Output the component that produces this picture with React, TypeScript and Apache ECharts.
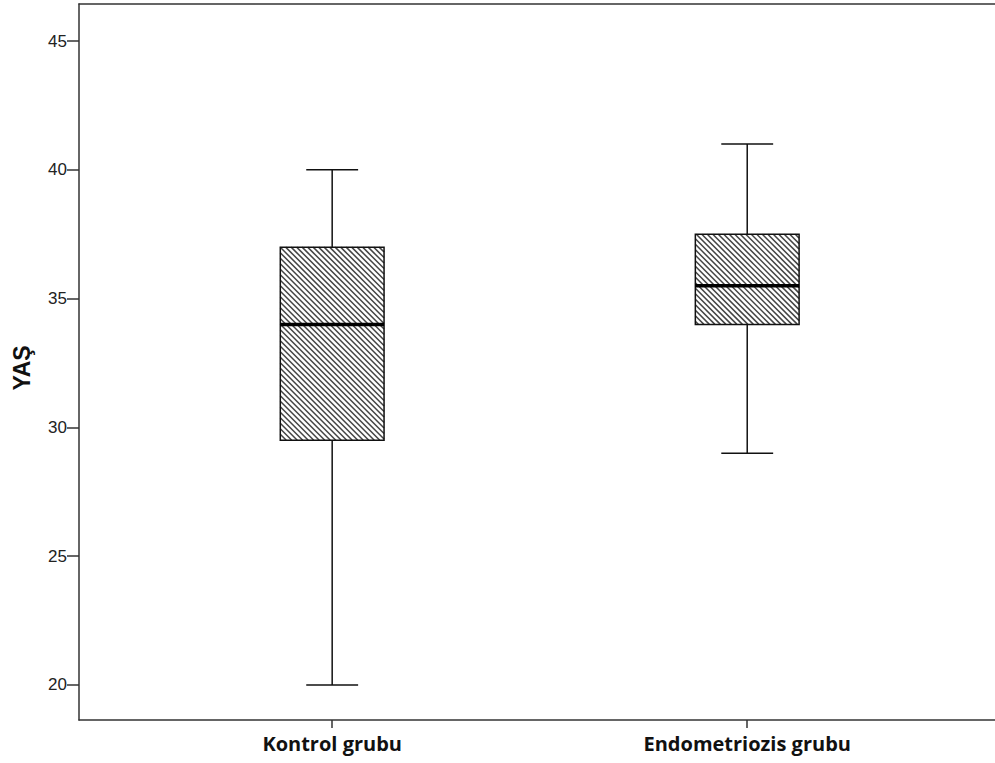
import React, { useEffect, useRef } from "react";
import * as echarts from "echarts";

const categories = ["Kontrol grubu", "Endometriozis grubu"];
const categoryPositions = [1, 2];
// [min, Q1, median, Q3, max]
const boxValues = [
  [20, 29.5, 34, 37, 40],
  [29, 34, 35.5, 37.5, 41],
];
const yTickValues = [20, 25, 30, 35, 40, 45];
const yAxisTitle = "YAŞ";

export default function App() {
  const ref = useRef<HTMLDivElement>(null);
  useEffect(() => {
    document.body.style.margin = "0";
    const chart = echarts.init(ref.current!, null, { renderer: "svg" });
    const data = boxValues.map((b, i) => [categoryPositions[i], ...b]);
    const axisLineStyle = { color: "#333", width: 1.5 };
    const option: any = {
      animation: false,
      backgroundColor: "#fff",
      grid: {
        left: 79,
        top: 4,
        bottom: 43,
        right: 0,
        show: false,
      },
      xAxis: [
        {
          type: "value",
          min: 0.39,
          max: 2.597,
          splitLine: { show: false },
          axisLine: { show: true, lineStyle: axisLineStyle },
          axisTick: {
            show: true,
            length: 8,
            customValues: categoryPositions,
            lineStyle: axisLineStyle,
          },
          axisLabel: {
            customValues: categoryPositions,
            formatter: (v: number) => categories[categoryPositions.indexOf(v)] ?? "",
            fontFamily: "Open Sans",
            fontWeight: "bold",
            fontSize: 20,
            color: "#111",
            margin: 13,
          },
        },
        {
          type: "value",
          position: "top",
          min: 0.39,
          max: 2.597,
          splitLine: { show: false },
          axisLine: { show: true, lineStyle: axisLineStyle },
          axisTick: { show: false },
          axisLabel: { show: false },
        },
      ],
      yAxis: {
        type: "value",
        min: 18.64,
        max: 46.44,
        splitLine: { show: false },
        axisLine: { show: true, lineStyle: axisLineStyle },
        axisTick: {
          show: true,
          length: 12,
          customValues: yTickValues,
          lineStyle: axisLineStyle,
        },
        axisLabel: {
          customValues: yTickValues,
          fontFamily: "Liberation Sans",
          fontSize: 17,
          color: "#222",
          margin: 12,
        },
        name: yAxisTitle,
        nameLocation: "middle",
        nameRotate: 90,
        nameGap: 46,
        nameTextStyle: {
          fontFamily: "Liberation Sans",
          fontWeight: "bold",
          fontSize: 23,
          color: "#111",
          padding: [0, 12, 0, 0],
        },
      },
      series: [
        {
          type: "custom",
          data,
          clip: false,
          renderItem: (params: any, api: any) => {
            const x = api.value(0);
            const mn = api.value(1);
            const q1 = api.value(2);
            const md = api.value(3);
            const q3 = api.value(4);
            const mx = api.value(5);
            const halfW = 0.125;
            const capHalf = 0.0625;
            const [xl, yq3] = api.coord([x - halfW, q3]);
            const [xr, yq1] = api.coord([x + halfW, q1]);
            const [xc, yMin] = api.coord([x, mn]);
            const yMax = api.coord([x, mx])[1];
            const yMed = api.coord([x, md])[1];
            const capL = api.coord([x - capHalf, mn])[0];
            const capR = api.coord([x + capHalf, mn])[0];
            const lineStyle = { stroke: "#111", lineWidth: 1.5 };
            const children: any[] = [];
            children.push({ type: "line", shape: { x1: xc, y1: yMax, x2: xc, y2: yq3 }, style: lineStyle });
            children.push({ type: "line", shape: { x1: xc, y1: yq1, x2: xc, y2: yMin }, style: lineStyle });
            children.push({ type: "line", shape: { x1: capL, y1: yMax, x2: capR, y2: yMax }, style: lineStyle });
            children.push({ type: "line", shape: { x1: capL, y1: yMin, x2: capR, y2: yMin }, style: lineStyle });
            children.push({
              type: "rect",
              shape: { x: xl, y: yq3, width: xr - xl, height: yq1 - yq3 },
              style: { fill: "#fff", stroke: "none" },
            });
            // hatch lines y = x + c, clipped to the box
            const step = 5.5;
            const x0 = xl, x1 = xr, y0 = yq3, y1 = yq1;
            const cStart = Math.floor((y0 - x1) / step) * step;
            for (let c = cStart; c <= y1 - x0; c += step) {
              const xs = Math.max(x0, y0 - c);
              const xe = Math.min(x1, y1 - c);
              if (xe - xs > 0.3) {
                children.push({
                  type: "line",
                  shape: { x1: xs, y1: xs + c, x2: xe, y2: xe + c },
                  style: { stroke: "#444", lineWidth: 1.5 },
                });
              }
            }
            children.push({
              type: "rect",
              shape: { x: xl, y: yq3, width: xr - xl, height: yq1 - yq3 },
              style: { fill: "none", stroke: "#111", lineWidth: 1.5 },
            });
            children.push({
              type: "line",
              shape: { x1: xl, y1: yMed, x2: xr, y2: yMed },
              style: { stroke: "#000", lineWidth: 3.5 },
            });
            return { type: "group", children };
          },
        },
      ],
    };
    chart.setOption(option);
    return () => chart.dispose();
  }, []);
  return <div ref={ref} style={{ width: 995, height: 763 }} />;
}
